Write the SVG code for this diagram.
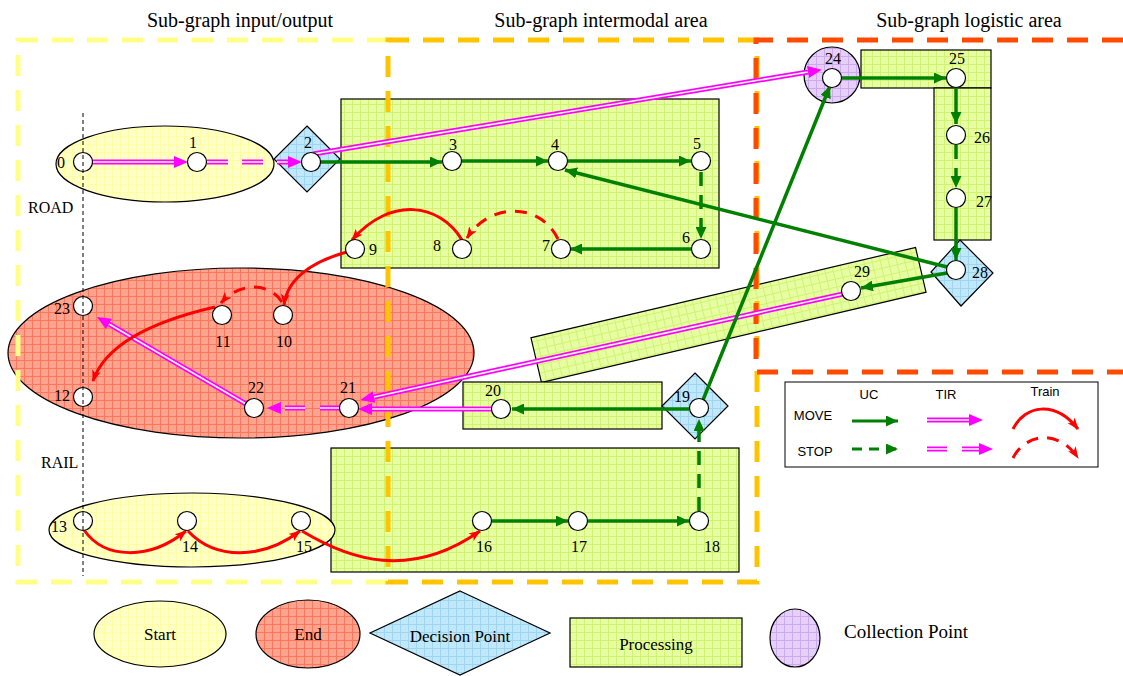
<svg xmlns="http://www.w3.org/2000/svg" width="1123" height="676" viewBox="0 0 1123 676">
<defs>
<pattern id="pY" width="8" height="8" patternUnits="userSpaceOnUse"><rect width="8" height="8" fill="#FFFFC8"/><path d="M0 0.5H8M0.5 0V8" stroke="#FFFFA2" stroke-width="1"/></pattern>
<pattern id="pG" width="8" height="8" patternUnits="userSpaceOnUse"><rect width="8" height="8" fill="#E6FFA2"/><path d="M0 0.5H8M0.5 0V8" stroke="#D2F272" stroke-width="1"/></pattern>
<pattern id="pR" width="8" height="8" patternUnits="userSpaceOnUse"><rect width="8" height="8" fill="#FFA48E"/><path d="M0 0.5H8M0.5 0V8" stroke="#FF765E" stroke-width="1"/></pattern>
<pattern id="pB" width="8" height="8" patternUnits="userSpaceOnUse"><rect width="8" height="8" fill="#C0E8FA"/><path d="M0 0.5H8M0.5 0V8" stroke="#9ED6F2" stroke-width="1"/></pattern>
<pattern id="pP" width="8" height="8" patternUnits="userSpaceOnUse"><rect width="8" height="8" fill="#E6D0FA"/><path d="M0 0.5H8M0.5 0V8" stroke="#CCAAF0" stroke-width="1"/></pattern>
<marker id="ag" viewBox="0 0 12 11" refX="12" refY="5.5" markerWidth="12" markerHeight="11" markerUnits="userSpaceOnUse" orient="auto"><path d="M0,0 L12,5.5 L0,11 z" fill="#008000"/></marker>
<marker id="am" viewBox="0 0 14 12" refX="0" refY="6" markerWidth="14" markerHeight="12" markerUnits="userSpaceOnUse" orient="auto"><path d="M0,0 L14,6 L0,12 z" fill="#FF00FF"/></marker>
<marker id="ar" viewBox="0 0 12 10" refX="11" refY="5" markerWidth="12" markerHeight="10" markerUnits="userSpaceOnUse" orient="auto"><path d="M0,0.5 L12,5 L0,9.5 L3,5 z" fill="#FF0000"/></marker>
</defs>
<style>
.title{font-family:"Liberation Serif","Times New Roman",serif;font-size:20px;fill:#000;text-anchor:middle}
.lbl{font-family:"Liberation Serif","Times New Roman",serif;font-size:16px;fill:#000;text-anchor:middle}
.side{font-family:"Liberation Serif","Times New Roman",serif;font-size:16px;fill:#000}
.leg{font-family:"Liberation Sans",Arial,sans-serif;font-size:13px;fill:#000;text-anchor:middle}
.shape{stroke:#000;stroke-width:1.2}
.node{fill:#fff;stroke:#000;stroke-width:1.2}
.uc{fill:none;stroke:#008000;stroke-width:3.5;marker-end:url(#ag)}
.ucs{stroke-dasharray:14 9}
.tir{fill:none;stroke:#FF00FF;stroke-width:5;marker-end:url(#am)}
.tirin{fill:none;stroke:#fff;stroke-width:1.6}
.tirs{stroke-dasharray:21 14}
.train{fill:none;stroke:#FF0000;stroke-width:3;marker-end:url(#ar)}
.trs{stroke-dasharray:12 9}
.sg{fill:none;stroke-width:5;stroke-dasharray:21 14}
.bigtxt{font-family:"Liberation Serif","Times New Roman",serif;font-size:18px;fill:#000;text-anchor:middle}
</style>
<rect width="1123" height="676" fill="#fff"/>

<g id="titles">
<text class="title" x="240" y="27">Sub-graph input/output</text>
<text class="title" x="601" y="27">Sub-graph intermodal area</text>
<text class="title" x="969" y="27">Sub-graph logistic area</text>
</g>

<g id="areas">
<g id="start-road"><ellipse class="shape" cx="165" cy="164" rx="109" ry="38" fill="url(#pY)"/></g>
<g id="decision-2"><polygon class="shape" points="307,126 340,159 307,192 274,159" fill="url(#pB)"/></g>
<g id="processing-top"><rect class="shape" x="341" y="99" width="378" height="169" fill="url(#pG)"/></g>
<g id="end-area"><ellipse class="shape" cx="241" cy="353" rx="233" ry="85" fill="url(#pR)"/></g>
<g id="processing-29"><rect class="shape" x="531" y="292" width="395" height="46" fill="url(#pG)" transform="rotate(-13.2 728.5 315)"/></g>
<g id="processing-20"><rect class="shape" x="463" y="382" width="199" height="47" fill="url(#pG)"/></g>
<g id="decision-19"><polygon class="shape" points="695,373 728,406 695,439 662,406" fill="url(#pB)"/></g>
<g id="processing-bottom"><rect class="shape" x="331" y="448" width="408" height="124" fill="url(#pG)"/></g>
<g id="start-rail"><ellipse class="shape" cx="192" cy="530" rx="143" ry="37" fill="url(#pY)"/></g>
<g id="collection-24"><circle class="shape" cx="832" cy="75" r="28" fill="url(#pP)"/></g>
<g id="processing-25"><rect class="shape" x="861" y="50" width="130" height="38" fill="url(#pG)"/></g>
<g id="processing-26"><rect class="shape" x="934" y="88" width="57" height="152" fill="url(#pG)"/></g>
<g id="decision-28"><polygon class="shape" points="960,240 993,273 961,306 931,272" fill="url(#pB)"/></g>
</g>

<g id="subgraphs">
<path class="sg" stroke="#FFFF88" d="M388,40 H18 V582 H388"/>
<path class="sg" stroke="#FFC400" d="M388,40 H757 V582 H388 Z"/>
<path class="sg" stroke="#FF4A00" d="M1123,40 H756 V372 H1123"/>
</g>

<g id="connectors">
<path class="tir" d="M92,162 L174,162"/><path class="tirin" d="M92,162 L174,162"/>
<path class="tir tirs" d="M207,162 L288,162"/><path class="tirin tirs" d="M207,162 L288,162"/>
<path class="tir" d="M313,154 L808,72"/><path class="tirin" d="M313,154 L808,72"/>
<path class="tir" d="M246,404 L109,324"/><path class="tirin" d="M246,404 L109,324"/>
<path class="tir" d="M340,408 L281,408" style="stroke-dasharray:20 15"/><path class="tirin" d="M340,408 L281,408" style="stroke-dasharray:20 15"/>
<path class="tir" d="M493,409 L372,409"/><path class="tirin" d="M493,409 L372,409"/>
<path class="tir" d="M843,294 L374,397"/><path class="tirin" d="M843,294 L374,397"/>
<path class="uc" d="M320,162 L442,162"/>
<path class="uc" d="M462,161 L548,161"/>
<path class="uc" d="M568,161 L691,161"/>
<path class="uc ucs" d="M701,172 L701,239"/>
<path class="uc" d="M691,249 L570,249"/>
<path class="uc" d="M947,267 L565,170"/>
<path class="uc" d="M947,273 L861,288"/>
<path class="uc" d="M703,400 L830,86"/>
<path class="uc" d="M689,409 L512,409"/>
<path class="uc ucs" d="M699,511 L699,419"/>
<path class="uc" d="M492,521 L568,521"/>
<path class="uc" d="M588,521 L689,521"/>
<path class="uc" d="M842,78 L946,78"/>
<path class="uc" d="M956,88 L956,124"/>
<path class="uc ucs" d="M956,145 L956,188"/>
<path class="uc" d="M956,208 L956,260"/>
<path class="train" d="M462,240 C440,203 390,196 352,240"/>
<path class="train trs" d="M558,239 C540,202 490,202 467,238"/>
<path class="train" d="M347,252 C310,262 287,280 284,305"/>
<path class="train trs" d="M282,302 C270,283 240,281 221,303"/>
<path class="train" d="M215,307 C150,322 105,345 93,381"/>
<path class="train" d="M84,530 C105,560 150,560 186,531"/>
<path class="train" d="M188,531 C215,560 262,560 300,531"/>
<path class="train" d="M302,531 C350,560 410,580 480,531"/>
</g>

<g id="nodes">
<g id="n0"><circle class="node" cx="83" cy="162" r="9.5"/><text class="lbl" x="61" y="168">0</text></g>
<g id="n1"><circle class="node" cx="197" cy="162" r="9.5"/><text class="lbl" x="193" y="148">1</text></g>
<g id="n2"><circle class="node" cx="311" cy="162" r="9.5"/><text class="lbl" x="308" y="148">2</text></g>
<g id="n3"><circle class="node" cx="452" cy="161" r="9.5"/><text class="lbl" x="453" y="150">3</text></g>
<g id="n4"><circle class="node" cx="558" cy="161" r="9.5"/><text class="lbl" x="555" y="150">4</text></g>
<g id="n5"><circle class="node" cx="701" cy="161" r="9.5"/><text class="lbl" x="697" y="149">5</text></g>
<g id="n6"><circle class="node" cx="701" cy="249" r="9.5"/><text class="lbl" x="686" y="243">6</text></g>
<g id="n7"><circle class="node" cx="561" cy="249" r="9.5"/><text class="lbl" x="546" y="251">7</text></g>
<g id="n8"><circle class="node" cx="462" cy="249" r="9.5"/><text class="lbl" x="437" y="251">8</text></g>
<g id="n9"><circle class="node" cx="355" cy="249" r="9.5"/><text class="lbl" x="373" y="255">9</text></g>
<g id="n10"><circle class="node" cx="283" cy="315" r="9.5"/><text class="lbl" x="284" y="347">10</text></g>
<g id="n11"><circle class="node" cx="222" cy="315" r="9.5"/><text class="lbl" x="223" y="347">11</text></g>
<g id="n12"><circle class="node" cx="83" cy="397" r="9.5"/><text class="lbl" x="62" y="401">12</text></g>
<g id="n23"><circle class="node" cx="83" cy="306" r="9.5"/><text class="lbl" x="62" y="314">23</text></g>
<g id="n22"><circle class="node" cx="254" cy="408" r="9.5"/><text class="lbl" x="256" y="393">22</text></g>
<g id="n21"><circle class="node" cx="349" cy="408" r="9.5"/><text class="lbl" x="348" y="393">21</text></g>
<g id="n20"><circle class="node" cx="501" cy="409" r="9.5"/><text class="lbl" x="493" y="396">20</text></g>
<g id="n19"><circle class="node" cx="699" cy="408" r="9.5"/><text class="lbl" x="682" y="402">19</text></g>
<g id="n13"><circle class="node" cx="83" cy="521" r="9.5"/><text class="lbl" x="59" y="532">13</text></g>
<g id="n14"><circle class="node" cx="187" cy="521" r="9.5"/><text class="lbl" x="190" y="552">14</text></g>
<g id="n15"><circle class="node" cx="301" cy="521" r="9.5"/><text class="lbl" x="304" y="552">15</text></g>
<g id="n16"><circle class="node" cx="482" cy="521" r="9.5"/><text class="lbl" x="484" y="552">16</text></g>
<g id="n17"><circle class="node" cx="578" cy="521" r="9.5"/><text class="lbl" x="579" y="552">17</text></g>
<g id="n18"><circle class="node" cx="699" cy="521" r="9.5"/><text class="lbl" x="712" y="552">18</text></g>
<g id="n24"><circle class="node" cx="832" cy="78" r="9.5"/><text class="lbl" x="833" y="64">24</text></g>
<g id="n25"><circle class="node" cx="956" cy="78" r="9.5"/><text class="lbl" x="957" y="64">25</text></g>
<g id="n26"><circle class="node" cx="956" cy="135" r="9.5"/><text class="lbl" x="982" y="143">26</text></g>
<g id="n27"><circle class="node" cx="956" cy="198" r="9.5"/><text class="lbl" x="984" y="207">27</text></g>
<g id="n28"><circle class="node" cx="956" cy="270" r="9.5"/><text class="lbl" x="980" y="278">28</text></g>
<g id="n29"><circle class="node" cx="851" cy="291" r="9.5"/><text class="lbl" x="862" y="277">29</text></g>
</g>

<g id="mode-split">
<path d="M83,113 V576" stroke="#000" stroke-width="1" stroke-dasharray="4 3" fill="none"/>
<text class="side" x="28" y="213">ROAD</text>
<text class="side" x="41" y="468">RAIL</text>
</g>

<g id="legend-arcs">
<rect x="785" y="382" width="313" height="85" fill="#fff" stroke="#000" stroke-width="1"/>
<text class="leg" x="869" y="399">UC</text>
<text class="leg" x="946" y="399">TIR</text>
<text class="leg" x="1045" y="396">Train</text>
<text class="leg" x="813" y="420">MOVE</text>
<text class="leg" x="815" y="456">STOP</text>
<path class="uc" style="stroke-width:3" d="M852,421 L898,421"/>
<path class="uc" style="stroke-width:3;stroke-dasharray:10 7" d="M852,449 L898,449"/>
<path class="tir" d="M927,420 L969,420"/><path class="tirin" d="M927,420 L969,420"/>
<path class="tir" d="M927,449 L979,449" style="stroke-dasharray:20 15"/><path class="tirin" d="M927,449 L979,449" style="stroke-dasharray:20 15"/>
<path class="train" d="M1013,429 C1025,405 1055,400 1078,429"/>
<path class="train trs" d="M1013,458 C1025,434 1058,428 1078,458"/>
</g>

<g id="legend-shapes">
<g id="leg-start"><ellipse class="shape" cx="160" cy="634" rx="66" ry="33" fill="url(#pY)"/><text class="bigtxt" x="160" y="640" style="font-size:17px">Start</text></g>
<g id="leg-end"><ellipse class="shape" cx="308" cy="634" rx="52" ry="34" fill="url(#pR)"/><text class="bigtxt" x="308" y="640" style="font-size:17px">End</text></g>
<g id="leg-decision"><polygon class="shape" points="460,591 550,633 460,675 370,633" fill="url(#pB)"/><text class="bigtxt" x="460" y="642" style="font-size:17px">Decision Point</text></g>
<g id="leg-processing"><rect class="shape" x="570" y="618" width="172" height="49" fill="url(#pG)"/><text class="bigtxt" x="656" y="650" style="font-size:17px">Processing</text></g>
<g id="leg-collection"><ellipse class="shape" cx="795" cy="638" rx="25" ry="29" fill="url(#pP)"/><text class="bigtxt" x="906" y="638" style="font-size:19px">Collection Point</text></g>
</g>
</svg>
